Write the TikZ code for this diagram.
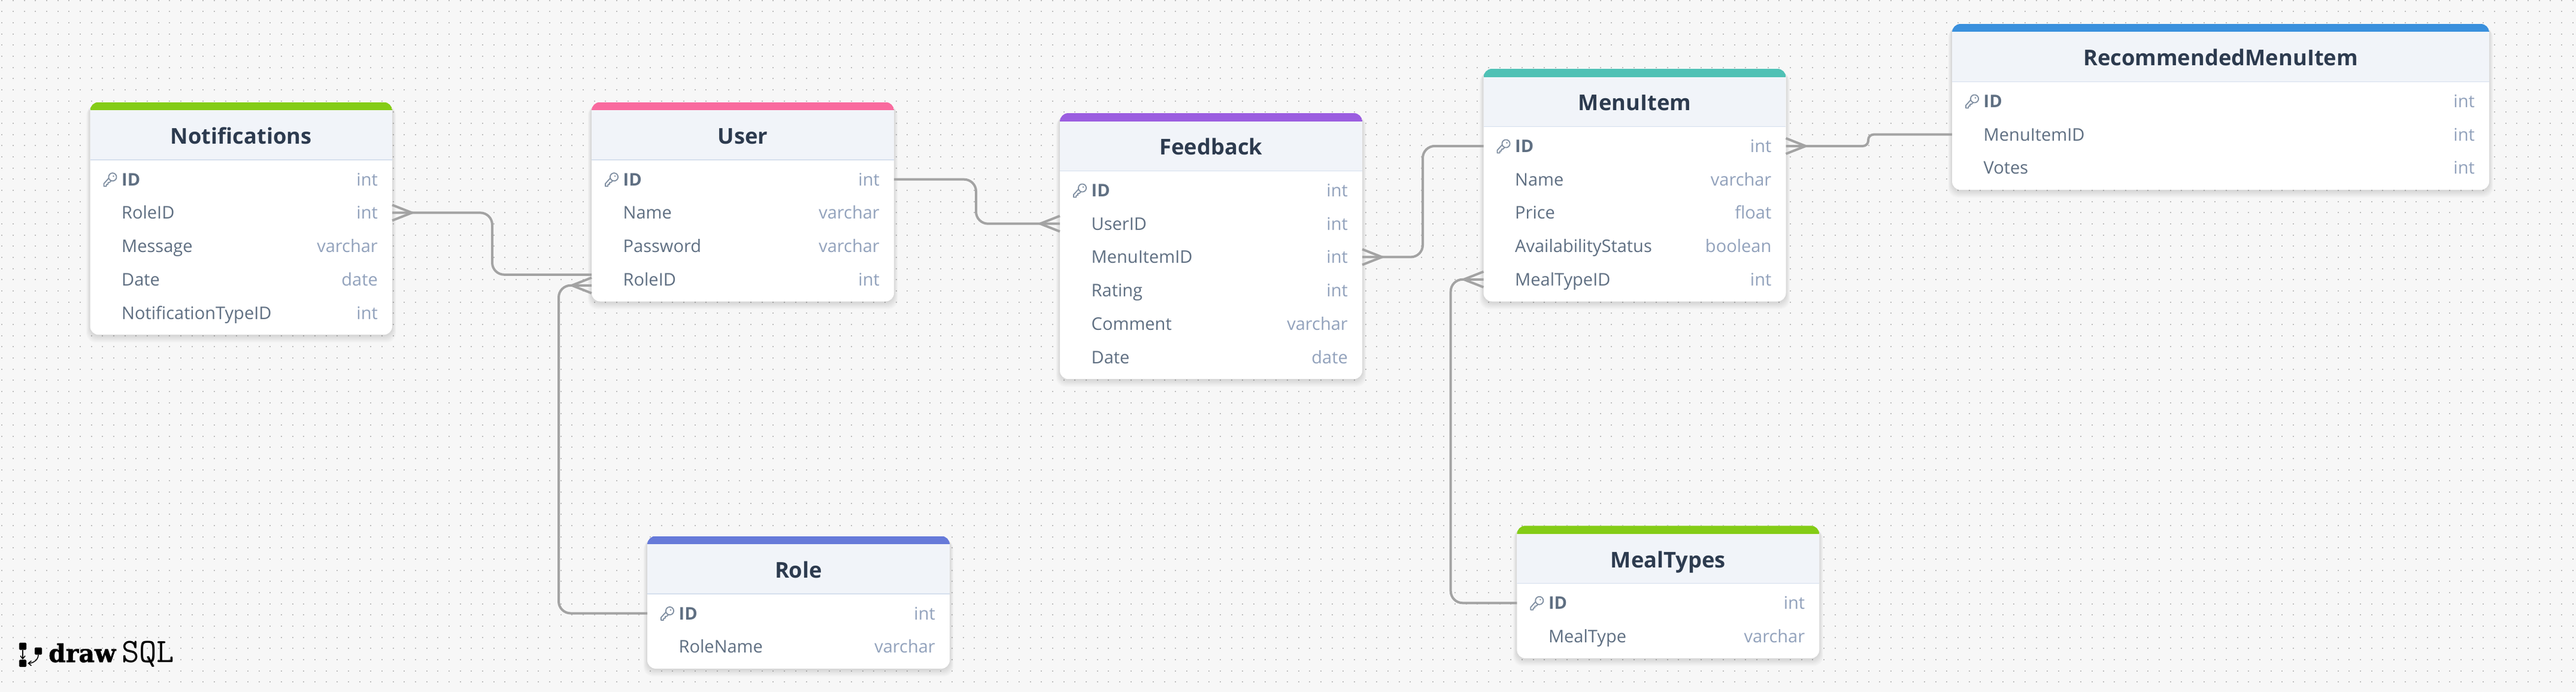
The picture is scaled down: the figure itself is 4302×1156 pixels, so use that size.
\documentclass[tikz,border=0pt]{standalone}
\usepackage{fontspec}
\setmainfont{Open Sans}
\newfontfamily\logoserif[FakeBold=1.6]{DejaVu Serif Bold}
\usetikzlibrary{arrows.meta,calc}
\definecolor{pagebg}{HTML}{F7F7F7}
\definecolor{griddot}{HTML}{BDBDBD}
\definecolor{headbg}{HTML}{F1F4F9}
\definecolor{headline}{HTML}{D6E0EE}
\definecolor{titlecol}{HTML}{2D3B4F}
\definecolor{rowcol}{HTML}{5F6F82}
\definecolor{typecol}{HTML}{92A2BC}
\definecolor{keycol}{HTML}{7F8EA1}
\definecolor{conncol}{HTML}{A3A3A3}
\definecolor{cgreen}{HTML}{84CC16}
\definecolor{cpink}{HTML}{F96A9E}
\definecolor{cpurple}{HTML}{9B5DE0}
\definecolor{cteal}{HTML}{4FC1B5}
\definecolor{cblue}{HTML}{3A90DD}
\definecolor{cindigo}{HTML}{667AD9}
\tikzset{
  cardbox/.style={anchor=north west,fill=white,rounded corners=14pt,inner sep=0pt,outer sep=0pt},
  rowbox/.style={anchor=west,inner sep=0pt,outer sep=0pt,minimum height=55.7pt},
  titletext/.style={inner sep=0pt,text height=25.5pt,text depth=0pt,text=titlecol,font=\fontsize{36.3}{40}\selectfont\bfseries},
  nametext/.style={anchor=west,inner sep=0pt,text height=21pt,text depth=0pt,text=rowcol,font=\fontsize{29}{32}\selectfont},
  idtext/.style={nametext,font=\fontsize{29}{32}\selectfont\bfseries},
  typetext/.style={anchor=east,inner sep=0pt,text height=21pt,text depth=0pt,text=typecol,font=\fontsize{29}{32}\selectfont},
  conn/.style={draw=conncol,line width=4pt,rounded corners=20pt},
  crow/.style={draw=conncol,line width=4pt},
  keyicon/.style={draw=keycol,line width=1.8pt,line cap=round,line join=round},
  logosq/.style={fill=black,rounded corners=1.5pt,inner sep=0pt,minimum size=12pt},
  logoline/.style={draw=black,line width=1.5pt,-{Straight Barb[length=5pt,width=8pt]}},
}
% \card{id}{x}{y}{width}{colour}{title}{number of rows}{rows}
\newcommand\card[8]{%
  \pgfmathsetmacro\cardH{129+(#7-1)*55.7+36.7}
  \foreach \sh in {1,...,8}{
    \fill[black,opacity=.016,rounded corners=16pt]
      ({#2-\sh*0.8},{#3+\sh*0.8}) rectangle ({#2+#4+\sh*0.8},{#3+\cardH+1+\sh*1.5});
  }
  \node[cardbox,minimum width=#4pt,minimum height=\cardH pt] (#1) at (#2,#3) {};
  \begin{scope}
    \path[clip,rounded corners=14pt] (#2,#3) rectangle ++(#4,\cardH);
    \fill[headbg] (#2,#3) rectangle ++(#4,96);
    \fill[headline] (#2,{#3+95.5}) rectangle ++(#4,1.5);
    \fill[#5] (#2,#3) rectangle ++(#4,13.5);
  \end{scope}
  \node[titletext] (#1-title) at ({#2+#4/2},{#3+57}) {#6};
  \foreach \nm/\ty [count=\i] in {#8}{
    \pgfmathsetmacro\ry{#3+129+(\i-1)*55.7}
    \node[rowbox,minimum width=#4pt] (#1-\i) at (#2,\ry) {};
    \ifnum\i=1
      \node[idtext] (#1-\i-name) at ({#2+52.5},\ry) {\nm};
      \begin{scope}[shift={({#2+32.5},\ry)}]
        \draw[keyicon] (-1.2,-2.2) -- (-9.5,7) -- (-9.5,11.5) -- (-5.5,11.5) -- (-5,8.5) -- (-2.5,8) -- (-2.5,5.3) -- (0,5) -- (2.6,2.4);
        \draw[keyicon,fill=white] (5,-4) circle (6.6);
        \fill[keycol] (6.5,-5.5) circle (1.3);
      \end{scope}
    \else
      \node[nametext] (#1-\i-name) at ({#2+52.5},\ry) {\nm};
    \fi
    \node[typetext] (#1-\i-type) at ({#2+#4-24},\ry) {\ty};
  }
}
% \crowfoot{point on the card edge}{signed length}
\newcommand\crowfoot[2]{\draw[crow] (#1) ++(0,-13) -- ++(#2,13) -- ++(-#2,13);}
\begin{document}
\begin{tikzpicture}[x=1pt,y=-1pt]
\useasboundingbox (0,0) rectangle (4302,1156);
\fill[pagebg] (0,0) rectangle (4302,1156);
\foreach \k in {0,...,61}{
  \draw[griddot,line width=2pt,dash pattern=on 2pt off 16.667pt] (2.3,{0.7+\k*18.667}) -- (4302,{0.7+\k*18.667});
}
\card{notif}{150.5}{170.7}{504.5}{cgreen}{Notifications}{5}{ID/int,RoleID/int,Message/varchar,Date/date,NotificationTypeID/int}
\card{user}{988}{170.7}{505}{cpink}{User}{4}{ID/int,Name/varchar,Password/varchar,RoleID/int}
\card{feedback}{1770}{189}{505}{cpurple}{Feedback}{6}{ID/int,UserID/int,MenuItemID/int,Rating/int,Comment/varchar,Date/date}
\card{menu}{2477.5}{115}{505}{cteal}{MenuItem}{5}{ID/int,Name/varchar,Price/float,AvailabilityStatus/boolean,MealTypeID/int}
\card{rec}{3260}{40}{897}{cblue}{RecommendedMenuItem}{3}{ID/int,MenuItemID/int,Votes/int}
\card{role}{1081}{895.5}{505}{cindigo}{Role}{2}{ID/int,RoleName/varchar}
\card{meal}{2533.3}{878.3}{505}{cgreen}{MealTypes}{2}{ID/int,MealType/varchar}
% connectors
\coordinate (v1) at (822,0);
\coordinate (v2) at (933,0);
\coordinate (v3) at (1630,0);
\coordinate (v4) at (2376,0);
\coordinate (v5) at (2422.7,0);
\coordinate (v6) at (3120,0);
\coordinate (notifEnd) at ([yshift=8pt]user-4.west);
\coordinate (roleEnd) at ([yshift=-10pt]user-4.west);
\draw[conn] (notif-2.east) -- (notif-2.east -| v1) -- (notifEnd -| v1) -- (notifEnd);
\crowfoot{notif-2.east}{33}
\draw[conn] (role-1.west) -- (role-1.west -| v2) -- (roleEnd -| v2) -- (roleEnd);
\crowfoot{roleEnd}{-33}
\draw[conn] (user-1.east) -- (user-1.east -| v3) -- (feedback-2.west -| v3) -- (feedback-2.west);
\crowfoot{feedback-2.west}{-33}
\draw[conn] (feedback-3.east) -- (feedback-3.east -| v4) -- (menu-1.west -| v4) -- (menu-1.west);
\crowfoot{feedback-3.east}{33}
\draw[conn] (meal-1.west) -- (meal-1.west -| v5) -- (menu-5.west -| v5) -- (menu-5.west);
\crowfoot{menu-5.west}{-33}
\draw[conn,rounded corners=9pt] (menu-1.east) -- (menu-1.east -| v6) -- (rec-2.west -| v6) -- (rec-2.west);
\crowfoot{menu-1.east}{33}
% logo
\node[logosq] (logoA) at (38,1079.5) {};
\node[logosq] (logoB) at (64,1087.5) {};
\node[logosq] (logoC) at (38,1108) {};
\draw[logoline] (logoA) -- (logoC);
\draw[logoline] (logoB.south) to[out=-90,in=0] ([xshift=2pt]logoC.east);
\node[anchor=base west,inner sep=0pt,font=\fontsize{41}{44}\selectfont\logoserif] (logoDraw) at (81,1106) {draw};
\node[anchor=base west,inner sep=0pt,font=\fontsize{57}{60}\selectfont\ttfamily] (logoSql) at (203,1106) {SQL};
\end{tikzpicture}
\end{document}
